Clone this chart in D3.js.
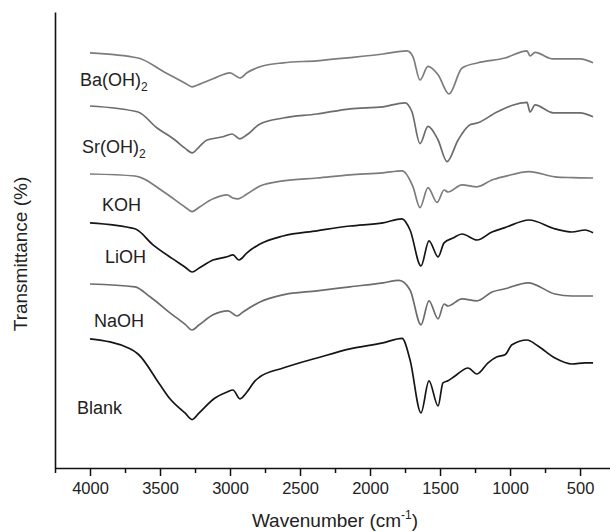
<!DOCTYPE html>
<html>
<head>
<meta charset="utf-8">
<script src="https://cdn.jsdelivr.net/npm/d3@7"></script>
<style>
  body { margin: 0; background: #fff; }
  svg { font-family: "Liberation Sans", Arial, sans-serif; }
</style>
</head>
<body>
<div id="chart"></div>
<script>
// spectra: [wavenumber, transmittance (a.u., stacked)]
var baOH = [[4000,103.8],[3657,102.5],[3464,98.9],[3320,96.2],[3271,95.3],[3220,95.9],[3121,97.3],[3000,98.8],[2929,97.5],
  [2879,98.8],[2786,100.3],[2621,101.3],[2379,101.8],[2143,102.6],[1907,103.5],[1736,104.3],[1693,102.8],[1643,97],
  [1586,100.4],[1514,98.3],[1436,93.5],[1343,100],[1229,101.3],[1036,102.5],[879,104.3],[857,103],[821,103.9],
  [700,102.3],[500,102.3],[407,101.3]];
var srOH = [[4000,90.5],[3657,89],[3521,85],[3393,82],[3320,79.9],[3271,78.8],[3220,80.3],[3164,82],[3050,82.8],
  [2986,83.5],[2929,82.3],[2879,83.3],[2786,86],[2621,87.5],[2379,88.5],[2143,89.8],[1907,90.3],[1750,91.3],[1700,89],
  [1643,81.1],[1586,85.4],[1514,82],[1450,76.6],[1371,82],[1286,85.8],[1229,86.3],[1093,89],[879,91.4],[857,89],
  [821,90.8],[693,88.8],[500,88.8],[407,87.8]];
var koh = [[4000,73.5],[3679,73],[3464,68.8],[3320,65.2],[3271,64.1],[3220,65.2],[3121,67.3],[3021,68.3],[2979,67.5],
  [2943,67.3],[2879,68.5],[2786,70.5],[2621,71.8],[2379,72.5],[2143,73.3],[1907,73.8],[1771,74.3],[1693,70.3],
  [1643,65.1],[1586,70.1],[1521,66.4],[1471,69.5],[1443,69],[1343,70.8],[1236,70.3],[1129,72],[1036,72.9],[864,74.1],
  [679,72.8],[557,72.6],[407,72.5]];
var lioh = [[4000,61.3],[3679,59.8],[3550,55.8],[3414,52.4],[3320,50.2],[3271,49],[3220,50],[3121,52],[3021,52.8],
  [2979,53.3],[2936,52],[2879,53.8],[2786,56],[2621,58],[2379,59.3],[2143,60.5],[1907,61.3],[1771,62.3],[1714,59.5],
  [1636,50.5],[1579,56.8],[1514,52.8],[1471,56.3],[1407,57.5],[1343,58.5],[1236,57],[1129,59],[1036,60.1],[864,62],
  [679,59.8],[557,59],[464,59.5],[407,58.8]];
var naoh = [[4000,46],[3679,45.3],[3571,42.8],[3429,38.8],[3320,35.9],[3271,34.5],[3220,35.8],[3121,38.3],[3014,39.3],
  [2950,38],[2907,39],[2786,41.5],[2621,43.3],[2379,44.3],[2143,45.3],[1907,46.3],[1793,46.9],[1714,44.5],[1636,35.8],
  [1579,41.8],[1514,37.3],[1471,41],[1443,40.5],[1343,42.3],[1236,41.8],[1129,44],[1036,44.8],[871,46.3],[679,43.5],
  [557,43],[407,43]];
var blank = [[4000,32.3],[3714,29.8],[3657,28.5],[3500,20.8],[3429,17.3],[3320,13.7],[3271,12.1],[3220,13.8],[3107,17.5],
  [3021,19],[2979,19.5],[2929,17.3],[2879,19],[2821,21.8],[2786,22.8],[2621,25],[2379,27.5],[2143,29.8],[1907,31.3],
  [1771,32.4],[1714,27],[1636,13.8],[1579,21.8],[1514,15.5],[1479,21.3],[1443,21.8],[1393,23],[1300,25],[1236,23.5],
  [1157,26.3],[1093,27.8],[1036,28.3],[986,30.8],[879,32],[800,30.5],[679,27.5],[557,26],[464,26.3],[407,26.3]];

var seriesNames = ["Ba(OH)", "Sr(OH)", "KOH", "LiOH", "NaOH", "Blank"];
var seriesSub = ["2", "2", "", "", "", ""];
var seriesData = [baOH, srOH, koh, lioh, naoh, blank];
var seriesColors = ["#7c7c7c", "#6c6c6c", "#7c7c7c", "#151515", "#6c6c6c", "#151515"];
// label anchor: [wavenumber, transmittance]
var labelPos = [[4071,95.5],[4057,78.8],[3914,64.3],[3893,51.3],[3971,35.3],[4093,13.5]];

var majorTicks = [4000, 3500, 3000, 2500, 2000, 1500, 1000, 500];
var minorTicks = [4250, 3750, 3250, 2750, 2250, 1750, 1250, 750];

var svgWidth = 610, svgHeight = 532;
var margin = {top: 12, right: 0, bottom: 64, left: 55};
var plotWidth = svgWidth - margin.left - margin.right;
var plotHeight = svgHeight - margin.top - margin.bottom;

var svg = d3.select("#chart").append("svg")
  .attr("width", svgWidth)
  .attr("height", svgHeight);

var g = svg.append("g")
  .attr("transform", `translate(${margin.left}, ${margin.top})`);

var xScale = d3.scaleLinear().domain([4250, 286]).range([0, plotWidth]);
var yScale = d3.scaleLinear().domain([0, 114]).range([plotHeight, 0]);

// minor ticks
g.append("g")
  .attr("transform", `translate(0, ${plotHeight})`)
  .call(d3.axisBottom(xScale).tickValues(minorTicks).tickSize(5).tickFormat(""))
  .call(a => a.select(".domain").remove())
  .selectAll("line").attr("stroke", "#111").attr("stroke-width", 1.5);

var xAxis = g.append("g")
  .attr("transform", `translate(0, ${plotHeight})`)
  .call(d3.axisBottom(xScale).tickValues(majorTicks).tickSize(8).tickSizeOuter(0).tickPadding(6).tickFormat(d3.format("d")));
xAxis.select(".domain").attr("stroke", "#111").attr("stroke-width", 1.6);
xAxis.selectAll("line").attr("stroke", "#111").attr("stroke-width", 1.5);
xAxis.selectAll("text").attr("font-size", "16.5px").attr("fill", "#222")
  .attr("font-family", "'Liberation Sans', Arial, sans-serif");

var yAxis = g.append("g")
  .call(d3.axisLeft(yScale).tickValues([]).tickSizeOuter(0));
yAxis.select(".domain").attr("stroke", "#111").attr("stroke-width", 1.6);

var line = d3.line()
  .x(d => xScale(d[0]))
  .y(d => yScale(d[1]))
  .curve(d3.curveMonotoneX);

g.selectAll(".spectrum")
  .data(seriesData)
  .enter()
  .append("path")
  .attr("class", "spectrum")
  .attr("d", line)
  .attr("fill", "none")
  .attr("stroke", (d, i) => seriesColors[i])
  .attr("stroke-width", 1.7)
  .attr("stroke-linejoin", "round");

var labels = g.selectAll(".lab")
  .data(seriesNames)
  .enter()
  .append("text")
  .attr("class", "lab")
  .attr("x", (d, i) => xScale(labelPos[i][0]))
  .attr("y", (d, i) => yScale(labelPos[i][1]))
  .attr("font-size", "18px")
  .attr("fill", "#222");
labels.append("tspan").text(d => d);
labels.append("tspan")
  .attr("font-size", "12px")
  .attr("dy", 5)
  .text((d, i) => seriesSub[i]);

svg.append("text")
  .attr("x", 335)
  .attr("y", 527)
  .attr("text-anchor", "middle")
  .attr("font-size", "19px")
  .attr("fill", "#222")
  .call(t => {
    t.append("tspan").text("Wavenumber (cm");
    t.append("tspan").attr("font-size", "12px").attr("dy", -8).text("-1");
    t.append("tspan").attr("dy", 8).text(")");
  });

svg.append("text")
  .attr("transform", "translate(27, 254) rotate(-90)")
  .attr("text-anchor", "middle")
  .attr("font-size", "19px")
  .attr("fill", "#222")
  .text("Transmittance (%)");
</script>
</body>
</html>
